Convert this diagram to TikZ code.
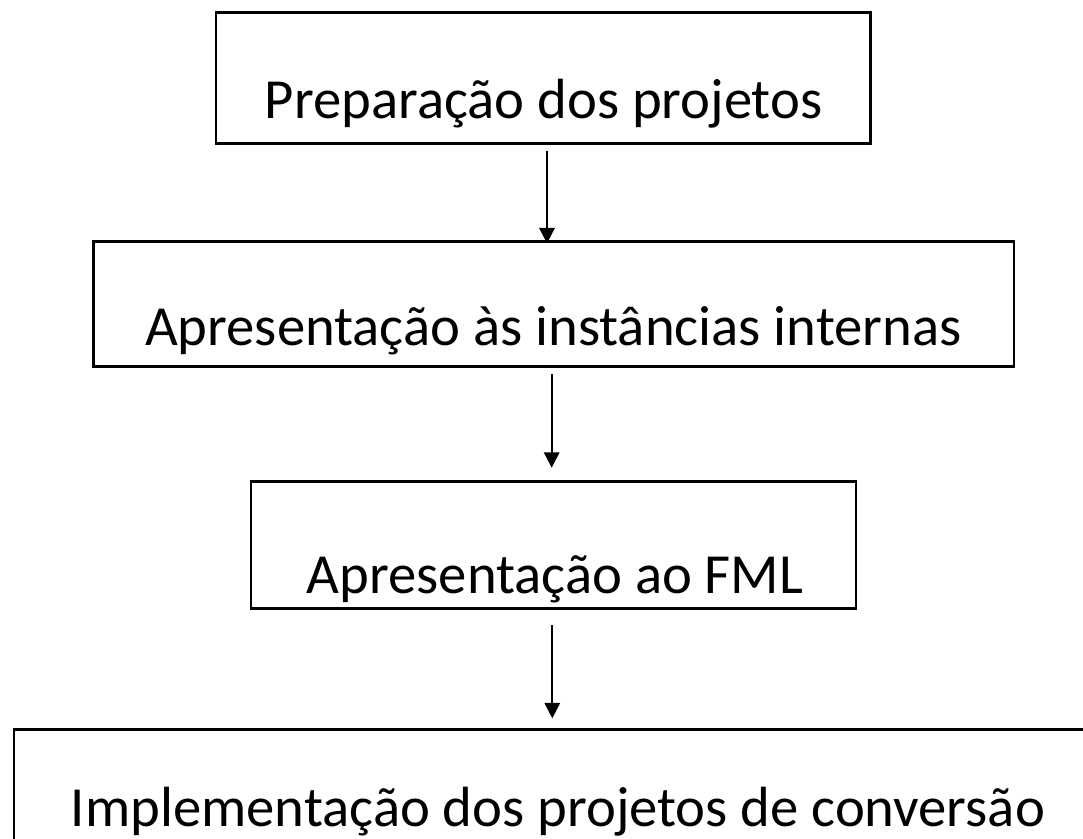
\documentclass[tikz,border=0pt]{standalone}
\usepackage{fontspec}
\setmainfont{Carlito}
\usetikzlibrary{arrows.meta}
\tikzset{
  box/.style={draw=black, line width=1.9pt, rectangle, inner sep=0pt},
  lbl/.style={anchor=base, inner sep=0pt, font=\fontsize{42.5}{50}\selectfont},
  arr/.style={draw=black, line width=1.6pt, -{Triangle[length=11.5pt,width=11.5pt]}}
}
\begin{document}
\begin{tikzpicture}[x=0.75pt,y=-0.75pt]
\useasboundingbox (0,0) rectangle (1083,839);
\clip (0,0) rectangle (1083,839);
\node[box, minimum width=491pt, minimum height=98pt] (b1) at (543.4,78) {};
\node[box, minimum width=690.5pt, minimum height=93.75pt] (b2) at (553.7,304.2) {};
\node[box, minimum width=453.75pt, minimum height=95.1pt] (b3) at (553.5,545.1) {};
\node[box, minimum width=840pt, minimum height=150pt] (b4) at (574,829.3) {};
\node[lbl] (t1) at (543.7,118.3) {Preparação dos projetos};
\node[lbl] (t2) at (553.3,345) {Apresentação às instâncias internas};
\node[lbl] (t3) at (555,593.3) {Apresentação ao FML};
\node[lbl] (t4) at (558,826.7) {Implementação dos projetos de conversão};
\coordinate (a1s) at (547,150.7);
\coordinate (a1e) at (547,243.3);
\coordinate (a2s) at (551.7,374.3);
\coordinate (a2e) at (551.7,467.7);
\coordinate (a3s) at (552.3,625);
\coordinate (a3e) at (552.3,718.3);
\draw[arr] (a1s) -- (a1e);
\draw[arr] (a2s) -- (a2e);
\draw[arr] (a3s) -- (a3e);
\end{tikzpicture}
\end{document}
